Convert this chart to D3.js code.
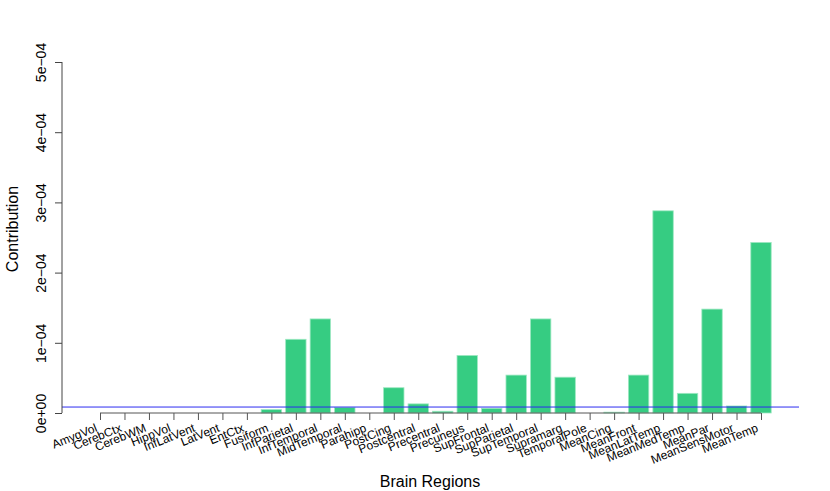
<!DOCTYPE html>
<html>
<head>
<meta charset="utf-8">
<script src="https://cdn.jsdelivr.net/npm/d3@7"></script>
<style>
  body { margin: 0; background: #fff; }
  text { font-family: "Liberation Sans", Arial, Helvetica, sans-serif; fill: #000; }
</style>
</head>
<body>
<div id="graph"></div>
<script>
// chart data
var regions = ["AmygVol", "CerebCtx", "CerebWM", "HippVol", "InfLatVent", "LatVent", "EntCtx",
    "Fusiform", "InfParietal", "InfTemporal", "MidTemporal", "Parahipp", "PostCing", "Postcentral",
    "Precentral", "Precuneus", "SupFrontal", "SupParietal", "SupTemporal", "Supramarg", "TemporalPole",
    "MeanCing", "MeanFront", "MeanLatTemp", "MeanMedTemp", "MeanPar", "MeanSensMotor", "MeanTemp"];
var contribution = [0, 0, 0, 0, 0, 0, 0,
    4.8e-6, 1.05e-4, 1.34e-4, 8.0e-6, 0, 3.6e-5, 1.3e-5,
    2.5e-6, 8.2e-5, 6.7e-6, 5.4e-5, 1.34e-4, 5.1e-5, 0,
    1.2e-6, 5.4e-5, 2.88e-4, 2.8e-5, 1.48e-4, 1.0e-5, 2.43e-4];
var y_ticks = [0, 1e-4, 2e-4, 3e-4, 4e-4, 5e-4];
var y_tick_labels = ["0e+00", "1e\u221204", "2e\u221204", "3e\u221204", "4e\u221204", "5e\u221204"];
var threshold = 8.5e-6;

//----------------------------------------------------------
var g_svg = d3.select("#graph")
  .append("svg")
    .attr("width", 830)
    .attr("height", 491);

var plot_left = 62, plot_right = 799;

var x = d3.scalePoint()
    .domain(regions)
    .range([100, 761]);
var bar_width = x.step() / 1.2;

var y = d3.scaleLinear()
    .domain([0, 5e-4])
    .range([413, 62]);

// bars
g_svg.append("g")
  .selectAll("rect")
  .data(regions)
  .join("rect")
    .attr("x", function (d) { return x(d) - bar_width / 2; })
    .attr("y", function (d, i) { return y(contribution[i]); })
    .attr("width", bar_width)
    .attr("height", function (d, i) { return y(0) - y(contribution[i]); })
    .attr("fill", "#36cc82")
    .attr("stroke", "#9ee8c2")
    .attr("stroke-width", 0.8);

// threshold line
g_svg.append("line")
    .attr("x1", plot_left)
    .attr("x2", plot_right)
    .attr("y1", y(threshold))
    .attr("y2", y(threshold))
    .attr("stroke", "#2b2bf0")
    .attr("stroke-width", 1);

// y axis
var y_axis = d3.axisLeft(y)
    .tickValues(y_ticks)
    .tickSize(7)
    .tickPadding(0)
    .tickFormat(function (d, i) { return y_tick_labels[i]; });

var gy = g_svg.append("g")
    .attr("transform", "translate(" + plot_left + ",0)")
    .call(y_axis);
gy.select(".domain").attr("stroke", "#444").attr("d", "M0," + y(5e-4) + "V" + y(0));
gy.selectAll(".tick line").attr("stroke", "#444");
gy.selectAll(".tick text")
    .attr("x", 0)
    .attr("y", 0)
    .attr("dy", 0)
    .attr("transform", "translate(-16,0) rotate(-90)")
    .attr("text-anchor", "middle")
    .style("font-size", "14px")
    .style("font-family", "Liberation Sans, Arial, sans-serif")
    .attr("fill", "#000");

// x axis
var x_axis = d3.axisBottom(x)
    .tickSize(7)
    .tickFormat("");

var gx = g_svg.append("g")
    .attr("transform", "translate(0," + y(0) + ")")
    .call(x_axis);
gx.select(".domain").attr("stroke", "#555").attr("d", "M" + x(regions[0]) + ",0H" + x(regions[regions.length - 1]));
gx.selectAll(".tick line").attr("stroke", "#555");

g_svg.append("g")
  .selectAll("text")
  .data(regions)
  .join("text")
    .attr("transform", function (d) {
        return "translate(" + (x(d) - 2) + ",431) rotate(-22)";
    })
    .attr("text-anchor", "end")
    .style("font-size", "12px")
    .text(function (d) { return d; });

// axis titles
g_svg.append("text")
    .attr("x", 430)
    .attr("y", 487)
    .attr("text-anchor", "middle")
    .style("font-size", "16px")
    .text("Brain Regions");

g_svg.append("text")
    .attr("transform", "translate(18,229) rotate(-90)")
    .attr("text-anchor", "middle")
    .style("font-size", "16px")
    .text("Contribution");
</script>
</body>
</html>
